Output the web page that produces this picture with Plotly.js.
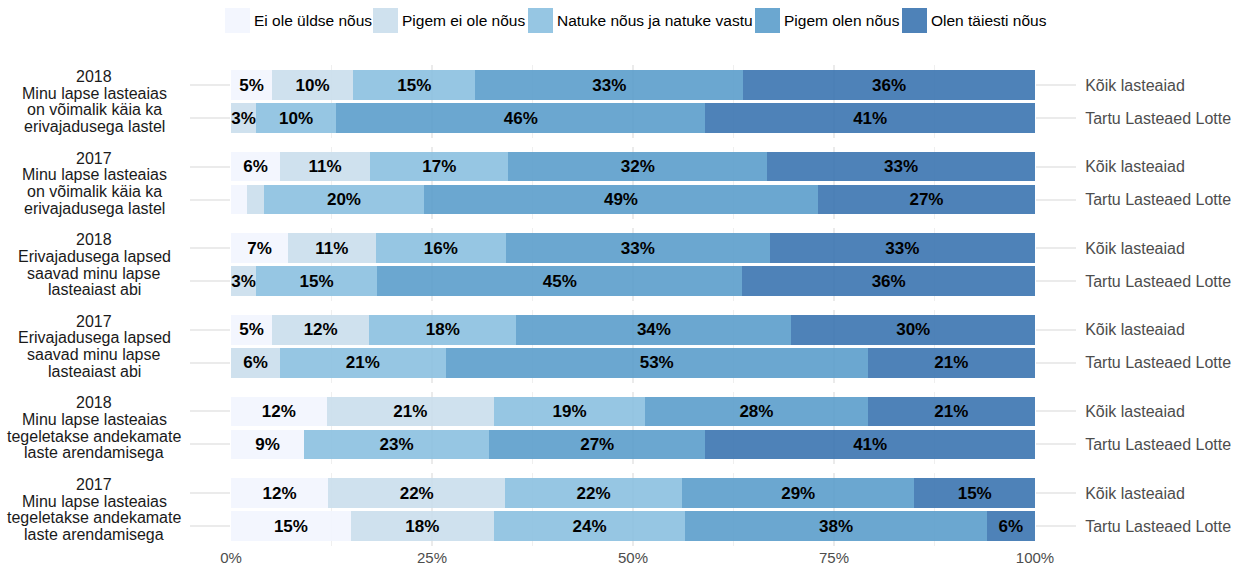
<!DOCTYPE html>
<html>
<head>
<meta charset="utf-8">
<script src="https://cdn.plot.ly/plotly-3.0.1.min.js"></script>
<style>html,body{margin:0;padding:0;background:#fff;}#chart{width:1234px;height:567px;}</style>
</head>
<body>
<div id="chart"></div>
<script>
// ---------- data ----------
const groupLabels = [
  "2018\nMinu lapse lasteaias\non võimalik käia ka\nerivajadusega lastel",
  "2017\nMinu lapse lasteaias\non võimalik käia ka\nerivajadusega lastel",
  "2018\nErivajadusega lapsed\nsaavad minu lapse\nlasteaiast abi",
  "2017\nErivajadusega lapsed\nsaavad minu lapse\nlasteaiast abi",
  "2018\nMinu lapse lasteaias\ntegeletakse andekamate\nlaste arendamisega",
  "2017\nMinu lapse lasteaias\ntegeletakse andekamate\nlaste arendamisega"
];
const rowLabels = ["Kõik lasteaiad", "Tartu Lasteaed Lotte"];
const answers = ["Ei ole üldse nõus", "Pigem ei ole nõus", "Natuke nõus ja natuke vastu", "Pigem olen nõus", "Olen täiesti nõus"];
// order: group1 Kõik, group1 Tartu, group2 Kõik, group2 Tartu, ...
const eiOle     = [5.1, 0.0,  6.1, 2.0,  7.1, 0.0,  5.1, 0.0,  11.9, 9.1,  12.1, 14.9];
const pigemEi   = [10.1, 3.1, 11.2, 2.1, 10.9, 3.1, 12.1, 6.1, 20.8, 0.0, 22.0, 17.8];
const natuke    = [15.2, 10.0, 17.2, 19.9, 16.2, 15.1, 18.3, 20.6, 18.8, 23.0, 22.0, 23.8];
const pigemOlen = [33.3, 45.9, 32.2, 49.0, 32.8, 45.4, 34.2, 52.5, 27.7, 26.9, 28.9, 37.5];
const olen      = [36.3, 41.0, 33.3, 27.0, 33.0, 36.4, 30.3, 20.8, 20.8, 41.0, 15.0, 6.0];
const xTicks = [0, 25, 50, 75, 100];
const xTickText = ["0%", "25%", "50%", "75%", "100%"];

// ---------- style ----------
const series = [eiOle, pigemEi, natuke, pigemOlen, olen];
const fills = ["rgba(242,245,254,0.9)", "rgba(202,222,236,0.9)", "rgba(139,192,224,0.9)", "rgba(91,157,203,0.9)", "rgba(59,116,176,0.9)"];
const W = 1234, H = 567;
const plotLeft = 231, plotRight = 1035;
const panelTop0 = 65.2, panelStep = 81.6, panelH = 72.6;
const FONT = "Liberation Sans, Arial, sans-serif";

const fmt = v => v >= 2.5 ? Math.round(v) + "%" : "";

const traces = [];
const layout = {
  width: W, height: H,
  margin: {l: 0, r: 0, t: 0, b: 0},
  paper_bgcolor: "#fff", plot_bgcolor: "rgba(0,0,0,0)",
  barmode: "stack",
  showlegend: false,
  font: {family: FONT, color: "#4d4d4d"},
  xaxis: {
    domain: [plotLeft / W, plotRight / W],
    range: [0, 100], anchor: "y6",
    tickvals: xTicks, ticktext: xTickText,
    showgrid: true, gridcolor: "#ebebeb", gridwidth: 1.6,
    minor: {dtick: 12.5, tick0: 0, showgrid: true, gridcolor: "#ebebeb", gridwidth: 0.8},
    zeroline: false, showline: false, ticks: "",
    ticklabelstandoff: 1,
    tickfont: {size: 15, color: "#4d4d4d", family: FONT},
    fixedrange: true
  },
  annotations: [], shapes: []
};

groupLabels.forEach((g, p) => {
  const yName = p === 0 ? "y" : "y" + (p + 1);
  const axName = p === 0 ? "yaxis" : "yaxis" + (p + 1);
  const top = panelTop0 + panelStep * p;
  layout[axName] = {
    domain: [1 - (top + panelH) / H, 1 - top / H],
    anchor: "x", side: "right", type: "category",
    categoryarray: rowLabels, categoryorder: "array",
    range: [1.6, -0.6],
    ticks: "outside", ticklen: 40, tickwidth: 2, tickcolor: "#ebebeb",
    mirror: "ticks", showline: false, showgrid: false, zeroline: false,
    ticklabelstandoff: 6,
    tickfont: {size: 16, color: "#4d4d4d", family: FONT},
    fixedrange: true
  };
  series.forEach((s, a) => {
    const xs = [s[2 * p], s[2 * p + 1]];
    traces.push({
      type: "bar", orientation: "h",
      name: answers[a],
      x: xs, y: rowLabels,
      xaxis: "x", yaxis: yName,
      width: 0.9,
      marker: {color: fills[a], line: {width: 0}},
      text: xs.map(fmt),
      textposition: "inside", insidetextanchor: "middle",
      constraintext: "none", textangle: 0,
      textfont: {size: 17, color: "#000", family: FONT, weight: "bold"},
      hoverinfo: "skip", showlegend: false
    });
  });
  const lines = g.split("\n");
  lines.forEach((ln, k) => {
    layout.annotations.push({
      text: ln, showarrow: false,
      xref: "paper", x: 94 / W, xanchor: "center",
      yref: yName, y: 0.5, yanchor: "middle",
      yshift: ((lines.length - 1) / 2 - k) * 16.7,
      font: {size: 16, color: "#1a1a1a", family: FONT}
    });
  });
});

// custom legend
const legSw = [225, 373, 528, 755, 902];
answers.forEach((ans, a) => {
  layout.shapes.push({
    type: "rect", xref: "paper", yref: "paper",
    x0: legSw[a] / W, x1: (legSw[a] + 25) / W,
    y0: 1 - 33 / H, y1: 1 - 8 / H,
    fillcolor: fills[a], line: {width: 0}
  });
  layout.annotations.push({
    text: ans, showarrow: false,
    xref: "paper", yref: "paper",
    x: (legSw[a] + 27) / W, xanchor: "left",
    y: 1 - 20.5 / H, yanchor: "middle",
    font: {size: 15.5, color: "#000", family: FONT}
  });
});

Plotly.newPlot("chart", traces, layout, {staticPlot: true, displayModeBar: false});
</script>
</body>
</html>
